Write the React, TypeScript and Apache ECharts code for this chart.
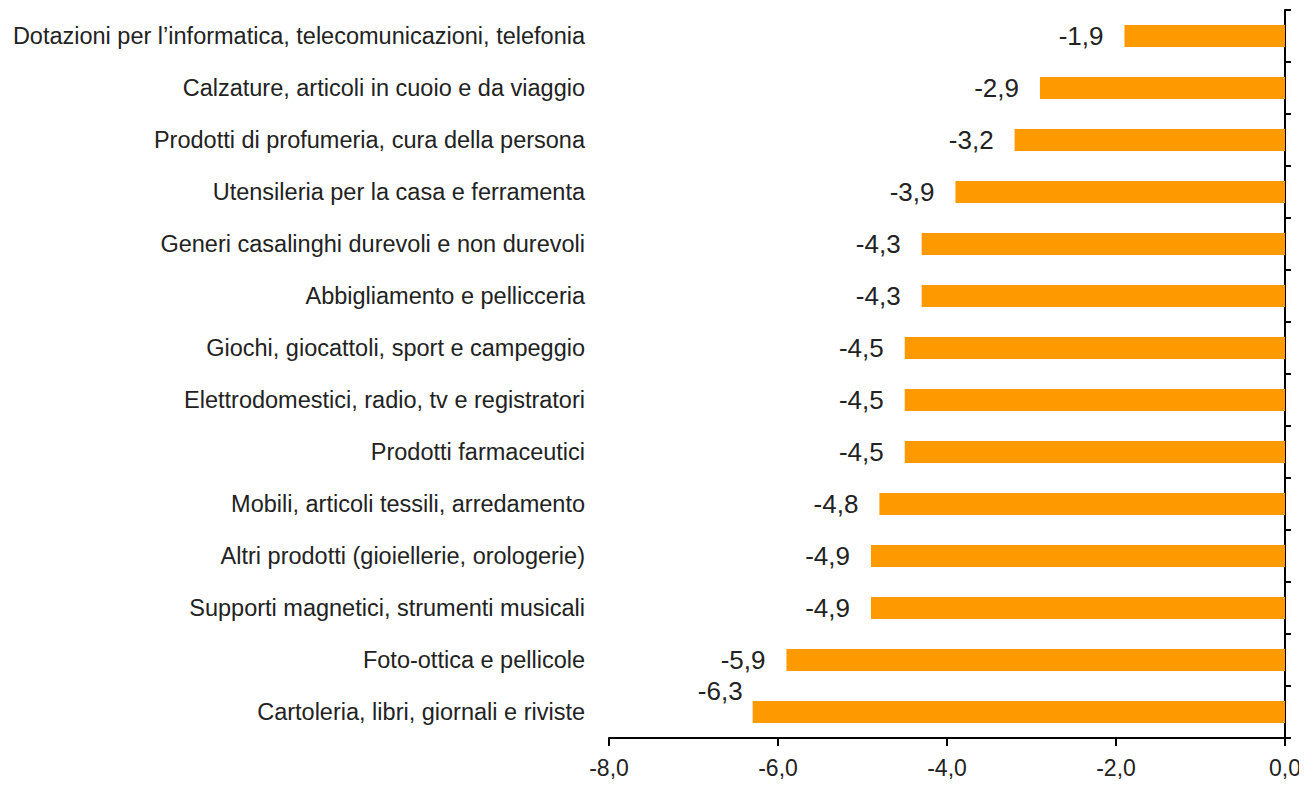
import React, { useEffect, useRef } from "react";
import * as echarts from "echarts";

const categories = [
  "Dotazioni per l’informatica, telecomunicazioni, telefonia",
  "Calzature, articoli in cuoio e da viaggio",
  "Prodotti di profumeria, cura della persona",
  "Utensileria per la casa e ferramenta",
  "Generi casalinghi durevoli e non durevoli",
  "Abbigliamento e pellicceria",
  "Giochi, giocattoli, sport e campeggio",
  "Elettrodomestici, radio, tv e registratori",
  "Prodotti farmaceutici",
  "Mobili, articoli tessili, arredamento",
  "Altri prodotti (gioiellerie, orologerie)",
  "Supporti magnetici, strumenti musicali",
  "Foto-ottica e pellicole",
  "Cartoleria, libri, giornali e riviste",
];
const values = [-1.9, -2.9, -3.2, -3.9, -4.3, -4.3, -4.5, -4.5, -4.5, -4.8, -4.9, -4.9, -5.9, -6.3];

const FONT = "'Liberation Sans', Arial, sans-serif";
const fmt = (v: number) => v.toFixed(1).replace(".", ",");

export default function App() {
  const ref = useRef<HTMLDivElement>(null);
  useEffect(() => {
    if (!ref.current) return;
    const chart = echarts.init(ref.current, null, { renderer: "svg" });
    chart.setOption({
      animation: false,
      grid: { left: 609, right: 22, top: 10, bottom: 49, containLabel: false },
      xAxis: {
        type: "value",
        min: -8,
        max: 0,
        interval: 2,
        splitLine: { show: false },
        axisLine: { show: true, onZero: false, lineStyle: { color: "#000", width: 2 } },
        axisTick: { show: true, length: 8, lineStyle: { color: "#000", width: 2 } },
        axisLabel: { formatter: (v: number) => fmt(v), fontFamily: FONT, fontSize: 23, color: "#222", margin: 18 },
      },
      yAxis: [
        {
          type: "category",
          data: categories,
          inverse: true,
          position: "left",
          axisLine: { show: false },
          axisTick: { show: false },
          axisLabel: { fontFamily: FONT, fontSize: 23.5, color: "#222", margin: 24 },
        },
        {
          type: "category",
          data: categories,
          inverse: true,
          position: "right",
          axisLine: { show: true, onZero: false, lineStyle: { color: "#000", width: 2 } },
          axisTick: { show: true, length: 6, inside: false, lineStyle: { color: "#000", width: 2 } },
          axisLabel: { show: false },
        },
      ],
      series: [
        {
          type: "bar",
          yAxisIndex: 0,
          barWidth: 22,
          itemStyle: { color: "#FF9900" },
          data: values.map((v, i) =>
            i === values.length - 1
              ? { value: v, label: { offset: [11, -21] } }
              : v
          ),
          label: {
            show: true,
            position: "left",
            distance: 21,
            formatter: (p: any) => fmt(p.value),
            fontFamily: FONT,
            fontSize: 26,
            color: "#222",
          },
        },
      ],
    });
    return () => chart.dispose();
  }, []);
  return <div ref={ref} style={{ width: 1307, height: 787, margin: -8 }} />;
}
